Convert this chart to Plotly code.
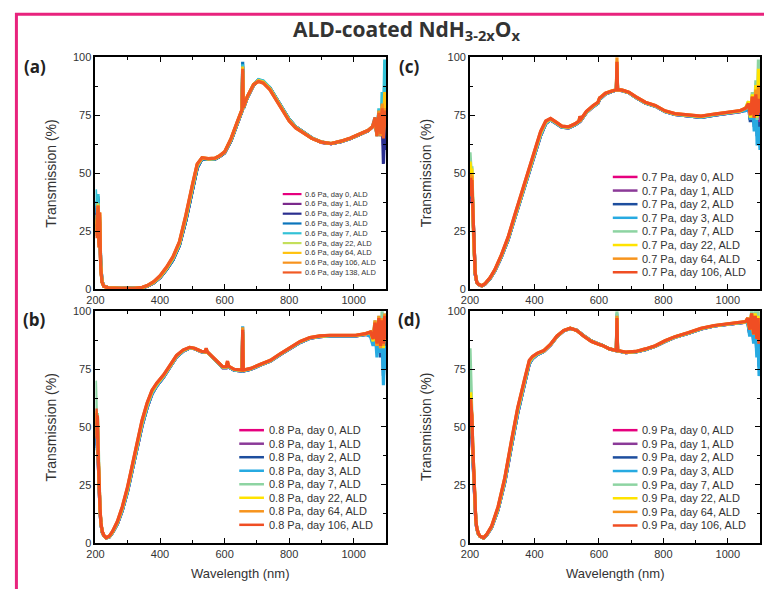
import plotly.graph_objects as go

W, H = 764, 589

# ---------------- labels & colours ----------------
days_a = ["day 0", "day 1", "day 2", "day 3", "day 7", "day 22", "day 64", "day 106", "day 138"]
days_bcd = ["day 0", "day 1", "day 2", "day 3", "day 7", "day 22", "day 64", "day 106"]
colors_a = ["#E6007E", "#7B2A8C", "#2B2F8F", "#0B75BB", "#33C2D6", "#C4DF5B", "#FFC20E", "#F7931E", "#F15A24"]
colors_bcd = ["#E6007E", "#8B3A98", "#1D4E9E", "#27AAE1", "#8DD4A2", "#FFE300", "#F7941D", "#F04E23"]
pressures = ["0.6 Pa", "0.8 Pa", "0.7 Pa", "0.9 Pa"]
x_ticks = [200, 400, 600, 800, 1000]
y_ticks = [0, 25, 50, 75, 100]

# ---------------- panel (a): 0.6 Pa ----------------
wl_a = [200, 203, 206, 208, 211, 213, 216, 220, 226, 240,
        280, 320, 345, 360, 380, 400, 420, 440, 460, 480,
        500, 515, 530, 550, 570, 585, 600, 620, 640, 654,
        656, 658, 670, 690, 705, 720, 740, 760, 780, 800,
        820, 840, 870, 900, 930, 960, 990, 1020, 1045, 1058,
        1066, 1072, 1078, 1084, 1088, 1092, 1096, 1100]
T_a = [
    [35, 28, 33, 38, 20, 28, 11, 3.4, 1.3, 0.6,
     0.3, 0.3, 0.6, 1.2, 2.7, 5, 8.5, 12.7, 18.9, 29.6,
     42.6, 52.3, 56.2, 56, 56.1, 57.2, 58.7, 64, 71.6, 76.9,
     90, 77.9, 82.5, 88, 90.1, 89.5, 86.7, 82.3, 77.5, 73.1,
     70, 68.1, 65.1, 63.3, 62.7, 63.6, 65, 66.8, 68.3, 70,
     72, 67, 75, 68, 77, 66, 74, 71],
    [34, 27, 33, 37, 21, 29, 11, 3.4, 1.3, 0.6,
     0.3, 0.3, 0.6, 1.2, 2.7, 5, 8.5, 12.7, 18.9, 29.7,
     42.7, 52.3, 56.2, 56, 56.1, 57.2, 58.8, 64.1, 71.6, 76.9,
     92, 77.9, 82.5, 88.1, 90.1, 89.5, 86.7, 82.3, 77.5, 73.1,
     70, 68.1, 65.1, 63.3, 62.7, 63.6, 65, 66.8, 68.3, 70,
     71, 68, 76, 66, 75, 62, 78, 68],
    [36, 29, 34, 39, 21, 29, 12, 3.5, 1.3, 0.6,
     0.3, 0.3, 0.6, 1.2, 2.7, 5, 8.4, 12.6, 18.8, 29.5,
     42.5, 52.2, 56.2, 56, 56.1, 57.2, 58.7, 64, 71.5, 76.8,
     96, 77.8, 82.4, 88, 90.2, 89.6, 86.8, 82.4, 77.6, 73.2,
     70, 68.2, 65.2, 63.4, 62.7, 63.6, 65, 66.8, 68.3, 70,
     73, 66, 74, 69, 76, 54, 70, 60],
    [38, 30, 35, 40, 22, 30, 12, 3.5, 1.3, 0.6,
     0.3, 0.3, 0.6, 1.2, 2.7, 5, 8.4, 12.6, 18.8, 29.5,
     42.5, 52.2, 56.2, 56, 56.1, 57.2, 58.7, 64, 71.5, 76.8,
     98, 77.8, 82.4, 88, 90.2, 89.6, 86.8, 82.4, 77.6, 73.2,
     70, 68.2, 65.2, 63.4, 62.7, 63.6, 65, 66.8, 68.3, 70,
     72, 67, 77, 66, 80, 68, 90, 72],
    [43, 33, 36, 41, 24, 31, 13, 3.6, 1.3, 0.6,
     0.3, 0.3, 0.6, 1.3, 2.8, 5.2, 8.7, 13, 19.3, 30.3,
     43.3, 52.8, 56.4, 56.1, 56.2, 57.3, 58.9, 64.3, 71.8, 77,
     97, 78, 82.6, 88.2, 90.4, 89.8, 86.9, 82.4, 77.6, 73.2,
     70, 68.2, 65.2, 63.5, 62.8, 63.7, 65.1, 66.9, 68.4, 70,
     74, 66, 78, 67, 85, 70, 99, 75],
    [32, 26, 32, 37, 20, 32, 11, 3.3, 1.2, 0.6,
     0.3, 0.3, 0.7, 1.3, 2.9, 5.3, 8.9, 13.3, 19.6, 30.8,
     43.8, 53.2, 56.5, 56.2, 56.3, 57.4, 59, 64.5, 72, 77.2,
     93, 78.1, 82.7, 88.2, 90, 89.4, 86.5, 82, 77.2, 72.9,
     69.8, 68, 65.1, 63.4, 62.8, 63.7, 65.1, 66.9, 68.4, 70,
     72, 68, 75, 68, 79, 67, 82, 73],
    [30, 24, 31, 36, 19, 33, 10, 3.2, 1.2, 0.6,
     0.3, 0.3, 0.7, 1.4, 3, 5.5, 9.1, 13.6, 20, 31.3,
     44.3, 53.6, 56.6, 56.2, 56.4, 57.5, 59.1, 64.7, 72.2, 77.3,
     96, 78.2, 82.8, 88.3, 89.8, 89.1, 86.3, 81.8, 77, 72.7,
     69.7, 67.9, 65, 63.4, 62.8, 63.7, 65.1, 66.9, 68.4, 70,
     73, 66, 76, 67, 78, 69, 85, 72],
    [29, 23, 31, 36, 18, 33, 10, 3.1, 1.2, 0.6,
     0.3, 0.3, 0.8, 1.5, 3.1, 5.7, 9.3, 13.8, 20.3, 31.7,
     44.7, 53.8, 56.7, 56.3, 56.5, 57.6, 59.2, 64.9, 72.4, 77.4,
     94, 78.3, 82.9, 88.3, 89.6, 88.9, 86.1, 81.6, 76.9, 72.6,
     69.6, 67.8, 65, 63.4, 62.8, 63.8, 65.2, 67, 68.5, 70,
     72, 67, 77, 66, 80, 66, 78, 71],
    [28, 22, 31, 36, 18, 33, 10, 3, 1.2, 0.6,
     0.3, 0.3, 0.8, 1.5, 3.2, 5.8, 9.5, 14, 20.5, 32,
     45, 54, 56.7, 56.3, 56.5, 57.6, 59.2, 65, 72.5, 77.5,
     95, 78.3, 83, 88.3, 89.5, 88.8, 86, 81.3, 76.8, 72.5,
     69.5, 67.8, 65, 63.4, 62.8, 63.8, 65.2, 67, 68.5, 70,
     74, 66, 76, 67, 78, 65, 77, 70],
]

# ---------------- panel (b): 0.8 Pa ----------------
wl_b = [200, 202, 204, 206, 208, 210, 214, 217, 221, 226,
        233, 243, 253, 268, 283, 299, 314, 329, 344, 360,
        375, 390, 411, 431, 451, 472, 492, 507, 528, 540,
        543, 546, 558, 578, 594, 605, 609, 612, 630, 654,
        656, 658, 681, 711, 742, 772, 803, 834, 864, 895,
        926, 966, 1006, 1037, 1052, 1060, 1066, 1072, 1078, 1083,
        1088, 1092, 1096, 1100]
T_b = [
    [45, 52, 42, 50, 38, 26, 14, 8, 4.6,
     3, 2.1, 2.6, 4.4, 8.2, 14, 22, 31.5, 41.2, 50.4, 58.4, 64.3, 67.8, 71.6, 75.9, 80.2, 82.8, 84.1, 83.8,
     82.5, 82.3, 83.2, 82.3, 80.6, 78.1, 75.6, 75.6, 77.5, 75.9, 74.5, 74.2, 88, 74.2, 74.9, 76.7, 78.4,
     81.2, 84, 86.5, 88.3, 89, 89.3, 89.4, 89.3, 90,
     89.5, 88, 93, 85, 95, 84, 92, 80, 94, 86],
    [44, 50, 41, 49, 37, 26, 14, 8, 4.6,
     3, 2.1, 2.6, 4.4, 8.2, 14, 22, 31.5, 41.2, 50.4, 58.4, 64.3, 67.8, 71.6, 75.9, 80.2, 82.8, 84.1, 83.8,
     82.5, 82.3, 83.2, 82.3, 80.6, 78.1, 75.6, 75.6, 77.5, 75.9, 74.5, 74.2, 90, 74.2, 74.9, 76.7, 78.4,
     81.2, 84, 86.5, 88.3, 89, 89.3, 89.4, 89.3, 90,
     90, 87, 94, 84, 96, 83, 93, 82, 95, 87],
    [46, 53, 42, 50, 38, 26, 14, 8, 4.6,
     3, 2.1, 2.6, 4.4, 8.2, 14, 22, 31.5, 41.2, 50.4, 58.4, 64.3, 67.8, 71.6, 75.9, 80.2, 82.8, 84.1, 83.8,
     82.5, 82.3, 83.2, 82.3, 80.6, 78.1, 75.6, 75.6, 77.5, 75.9, 74.5, 74.2, 91, 74.2, 74.9, 76.7, 78.4,
     81.2, 84, 86.5, 88.3, 89, 89.3, 89.4, 89.3, 90,
     90, 86, 93, 83, 95, 80, 90, 72, 88, 78],
    [45, 52, 40, 50, 38, 26, 14, 8, 4.6,
     3, 2.1, 2.6, 4.4, 8.2, 14, 22, 31.5, 41.2, 50.4, 58.4, 64.3, 67.8, 71.6, 75.9, 80.2, 82.8, 84.1, 83.8,
     82.5, 82.3, 83.2, 82.3, 80.6, 78.1, 75.6, 75.6, 77.5, 75.9, 74.5, 74.2, 93.5, 74.2, 74.9, 76.7, 78.4,
     81.2, 84, 86.5, 88.3, 89, 89.3, 89.4, 89.3, 90,
     89, 85, 92, 80, 94, 82, 90, 68, 85, 75],
    [70, 62, 50, 56, 42, 28, 15, 8.4, 4.8,
     3.1, 2.1, 2.7, 4.6, 8.6, 14.6, 22.8, 32.4, 42.2, 51.4, 59.3, 65, 68.3, 72, 76.2, 80.5, 83, 84.2, 83.9,
     82.6, 82.4, 83.5, 82.4, 80.7, 78.3, 75.8, 75.8, 77.8, 76.1, 74.7, 74.4, 92, 74.4, 75.1, 76.9, 78.6,
     81.4, 84.2, 86.7, 88.4, 89.1, 89.4, 89.5, 89.4, 90.1,
     91, 88, 96, 85, 98, 84, 100, 86, 99, 90],
    [52, 57, 46, 54, 40, 27, 14.5, 8.4, 4.8,
     3.1, 2.2, 2.8, 4.7, 8.9, 15, 23.3, 33, 42.9, 52, 59.8, 65.4, 68.6, 72.2, 76.4, 80.7, 83.1, 84.3, 83.9,
     82.6, 82.4, 83.7, 82.4, 80.8, 78.4, 75.9, 75.9, 78.1, 76.2, 74.8, 74.5, 90, 74.5, 75.2, 77, 78.7,
     81.5, 84.3, 86.8, 88.5, 89.2, 89.5, 89.6, 89.5, 90.2,
     91, 87, 95, 86, 97, 85, 96, 84, 97, 88],
    [50, 56, 45, 55, 40, 28, 15, 8.5, 4.9,
     3.2, 2.2, 2.9, 4.9, 9.2, 15.4, 23.7, 33.5, 43.4, 52.5, 60.2, 65.7, 68.9, 72.4, 76.6, 80.8, 83.2, 84.4, 84,
     82.7, 82.5, 83.9, 82.5, 80.9, 78.5, 76, 76, 78.3, 76.3, 74.9, 74.6, 93, 74.6, 75.3, 77.1, 78.8,
     81.6, 84.4, 86.9, 88.6, 89.3, 89.6, 89.7, 89.6, 90.3,
     91, 88, 96, 85, 98, 84, 97, 85, 99, 87],
    [50, 58, 45, 55, 40, 28, 15, 8.6, 5,
     3.2, 2.2, 2.9, 5, 9.3, 15.6, 24, 33.8, 43.7, 52.8, 60.5, 65.9, 69, 72.5, 76.7, 80.9, 83.3, 84.4, 84,
     82.7, 82.5, 84, 82.5, 80.9, 78.5, 76, 76, 78.5, 76.3, 74.9, 74.6, 92, 74.6, 75.3, 77.1, 78.8,
     81.6, 84.4, 86.9, 88.6, 89.3, 89.6, 89.7, 89.6, 90.3,
     91, 88, 95, 86, 97, 85, 96, 86, 98, 88],
]

# ---------------- panel (c): 0.7 Pa ----------------
wl_c = [200, 202, 204, 206, 208, 211, 216, 221, 226, 237,
        247, 262, 277, 297, 318, 338, 358, 379, 399, 419,
        435, 450, 465, 485, 506, 526, 538, 541, 545, 561,
        582, 597, 602, 606, 620, 640, 654, 656, 658, 673,
        693, 714, 744, 775, 805, 836, 876, 917, 958, 998,
        1039, 1055, 1064, 1070, 1076, 1082, 1087, 1091, 1095, 1100]
T_c = [
    [38, 44, 42, 44, 36, 21, 6.6, 2.9, 2,
     1.4, 2.2, 4.5, 7.8, 13.8, 21.2, 30.2, 39.2, 47.9, 56.7, 66.2, 71.4, 73, 71.7, 69.8, 69.5, 70.8,
     72, 73.5, 72.9, 76.1, 78.7, 80.2, 81.8, 82.4, 84.1, 85.2, 85.8, 92, 85.8, 85.6, 84.7, 82.7, 80.3,
     78.9, 76.6, 75.3, 74.6, 74.1, 75, 75.9, 76.5,
     77.5, 79, 74, 81, 73, 82, 72, 80, 74],
    [37, 43, 43, 45, 36, 21, 6.6, 2.9, 2,
     1.4, 2.2, 4.5, 7.8, 13.8, 21.2, 30.2, 39.2, 47.9, 56.7, 66.2, 71.4, 73, 71.7, 69.8, 69.5, 70.8,
     72, 73.5, 72.9, 76.1, 78.7, 80.2, 81.8, 82.4, 84.1, 85.2, 85.8, 94, 85.8, 85.6, 84.7, 82.7, 80.3,
     78.9, 76.6, 75.3, 74.6, 74.1, 75, 75.9, 76.5,
     77.5, 80, 73, 82, 72, 83, 70, 78, 72],
    [39, 45, 44, 46, 37, 21, 6.6, 2.9, 2,
     1.4, 2.2, 4.5, 7.8, 13.8, 21.2, 30.2, 39.2, 47.9, 56.7, 66.2, 71.4, 73, 71.7, 69.8, 69.5, 70.8,
     72, 73.5, 72.9, 76.1, 78.7, 80.2, 81.8, 82.4, 84.1, 85.2, 85.8, 95, 85.8, 85.6, 84.7, 82.7, 80.3,
     78.9, 76.6, 75.3, 74.6, 74.1, 75, 75.9, 76.5,
     77, 79, 72, 81, 70, 82, 66, 72, 62],
    [40, 46, 44, 47, 37, 21, 6.6, 2.9, 2,
     1.4, 2.2, 4.5, 7.8, 13.8, 21.2, 30.2, 39.2, 47.9, 56.7, 66.2, 71.4, 73, 71.7, 69.8, 69.5, 70.8,
     72, 73.5, 72.9, 76.1, 78.7, 80.2, 81.8, 82.4, 84.1, 85.2, 85.8, 96, 85.8, 85.6, 84.7, 82.7, 80.3,
     78.9, 76.6, 75.3, 74.6, 74.1, 75, 75.9, 76.5,
     77, 80, 73, 82, 68, 83, 62, 70, 60],
    [59, 52, 50, 53, 40, 23, 7, 3, 2.1,
     1.4, 2.3, 4.6, 8, 14.1, 21.6, 30.7, 39.8, 48.5, 57.3, 66.9, 71.8, 73.2, 71.9, 70, 69.7, 71,
     72.2, 73.8, 73.1, 76.3, 78.9, 80.4, 82.1, 82.6, 84.3, 85.3, 85.9, 97, 85.9, 85.7, 84.8, 82.8, 80.4,
     79, 76.7, 75.4, 74.7, 74.3, 75.2, 76.1, 76.7,
     78, 81, 75, 85, 74, 90, 73, 99, 80],
    [55, 53, 50, 52, 39, 22, 7, 3, 2.1,
     1.5, 2.4, 4.8, 8.2, 14.4, 22, 31.1, 40.2, 49, 57.9, 67.4, 72.2, 73.4, 72.1, 70.2, 69.9, 71.2,
     72.4, 74.2, 73.3, 76.5, 79, 80.5, 82.3, 82.7, 84.4, 85.4, 86, 98, 86, 85.7, 84.8, 82.9, 80.5,
     79.1, 76.8, 75.6, 74.9, 74.5, 75.4, 76.3, 76.9,
     78, 81, 74, 84, 74, 88, 74, 95, 78],
    [48, 50, 47, 49, 38, 22, 7, 3, 2.1,
     1.5, 2.4, 4.9, 8.3, 14.6, 22.2, 31.4, 40.5, 49.3, 58.3, 67.8, 72.4, 73.5, 72.2, 70.3, 70, 71.3,
     72.5, 74.4, 73.4, 76.6, 79.1, 80.6, 82.4, 82.8, 84.5, 85.5, 86, 100, 86, 85.8, 84.9, 83, 80.6,
     79.2, 76.9, 75.7, 75, 74.6, 75.5, 76.4, 77,
     78, 80, 75, 83, 74, 86, 75, 88, 77],
    [40, 48, 45, 47, 38, 22, 7, 3, 2.1,
     1.5, 2.4, 4.9, 8.4, 14.7, 22.4, 31.6, 40.7, 49.5, 58.5, 68, 72.5, 73.6, 72.2, 70.3, 70, 71.3,
     72.5, 74.5, 73.5, 76.7, 79.2, 80.6, 82.5, 82.8, 84.5, 85.5, 86, 98, 86, 85.8, 84.9, 83, 80.6,
     79.2, 76.9, 75.7, 75, 74.6, 75.5, 76.4, 77,
     78, 80, 75, 83, 74, 84, 75, 82, 76],
]

# ---------------- panel (d): 0.9 Pa ----------------
wl_d = [200, 202, 204, 206, 208, 211, 214, 218, 221, 226,
        231, 242, 252, 267, 287, 308, 328, 348, 369, 384,
        394, 409, 429, 450, 470, 491, 511, 531, 552, 577,
        597, 612, 633, 654, 656, 658, 683, 714, 744, 775,
        805, 836, 876, 917, 958, 998, 1039, 1055, 1062, 1068,
        1074, 1080, 1085, 1090, 1094, 1097, 1100]
T_d = [
    [48, 58, 50, 48, 40, 30, 17.5, 9.5, 6.2, 3.8,
     2.8, 2.1, 3.4, 6.6, 14.3, 26.3, 41.3, 56, 68.5, 77.3, 79.6, 81.3, 82.6, 85.4, 89, 91.5, 92.5, 91.8, 89.5,
     87.1, 85.9, 85.2, 83.7, 82.9, 92, 82.9, 82.1, 82.4, 83.4, 84.8, 86.9, 88.7, 90.4, 92.3, 93.6, 94.3, 94.7, 95.2,
     96, 91, 98, 89, 97, 87, 95, 84, 90],
    [55, 45, 52, 50, 41, 30, 17.5, 9.5, 6.2, 3.8,
     2.8, 2.1, 3.4, 6.6, 14.3, 26.3, 41.3, 56, 68.5, 77.3, 79.6, 81.3, 82.6, 85.4, 89, 91.5, 92.5, 91.8, 89.5,
     87.1, 85.9, 85.2, 83.7, 82.9, 94, 82.9, 82.1, 82.4, 83.4, 84.8, 86.9, 88.7, 90.4, 92.3, 93.6, 94.3, 94.7, 95.2,
     96, 90, 98, 88, 96, 85, 94, 82, 88],
    [50, 60, 52, 49, 40, 30, 17.5, 9.5, 6.2, 3.8,
     2.8, 2.1, 3.4, 6.6, 14.3, 26.3, 41.3, 56, 68.5, 77.3, 79.6, 81.3, 82.6, 85.4, 89, 91.5, 92.5, 91.8, 89.5,
     87.1, 85.9, 85.2, 83.7, 82.9, 96, 82.9, 82.1, 82.4, 83.4, 84.8, 86.9, 88.7, 90.4, 92.3, 93.6, 94.3, 94.7, 95.2,
     95, 90, 97, 87, 95, 82, 90, 76, 80],
    [52, 58, 55, 50, 41, 30, 17.5, 9.5, 6.2, 3.8,
     2.8, 2.1, 3.4, 6.6, 14.3, 26.3, 41.3, 56, 68.5, 77.3, 79.6, 81.3, 82.6, 85.4, 89, 91.5, 92.5, 91.8, 89.5,
     87.1, 85.9, 85.2, 83.7, 82.9, 99, 82.9, 82.1, 82.4, 83.4, 84.8, 86.9, 88.7, 90.4, 92.3, 93.6, 94.3, 94.7, 95.2,
     95, 89, 97, 86, 95, 80, 88, 72, 78],
    [84, 70, 62, 56, 45, 32, 18, 9.8, 6.4, 3.9,
     2.8, 2.1, 3.5, 6.8, 14.7, 27, 42.2, 57, 69.3, 77.9, 79.9, 81.5, 82.7, 85.5, 89.1, 91.6, 92.5, 91.8, 89.4,
     87, 85.9, 85.2, 83.7, 82.9, 100, 82.9, 82.2, 82.5, 83.5, 84.9, 87, 88.8, 90.5, 92.4, 93.7, 94.4, 94.8, 95.3,
     97, 92, 100, 91, 100, 90, 100, 88, 95],
    [60, 65, 58, 54, 44, 31, 18, 9.8, 6.4, 3.9,
     2.9, 2.2, 3.6, 7, 15.1, 27.6, 42.9, 57.7, 69.9, 78.4, 80.2, 81.7, 82.9, 85.6, 89.2, 91.6, 92.6, 91.7, 89.4,
     87, 85.8, 85.1, 83.7, 83, 97, 83, 82.2, 82.5, 83.6, 85, 87.1, 88.9, 90.6, 92.5, 93.7, 94.4, 94.8, 95.4,
     97, 92, 99, 90, 99, 89, 98, 87, 93],
    [55, 62, 57, 55, 43.5, 32, 18.4, 10, 6.5, 4,
     2.9, 2.2, 3.7, 7.1, 15.4, 28, 43.4, 58.1, 70.2, 78.6, 80.4, 81.8, 83, 85.7, 89.3, 91.7, 92.6, 91.7, 89.3,
     86.9, 85.8, 85.1, 83.7, 83, 98, 83, 82.3, 82.6, 83.7, 85.1, 87.2, 89, 90.7, 92.6, 93.8, 94.5, 94.9, 95.5,
     97, 92, 99, 90, 98, 88, 97, 86, 92],
    [50, 62, 58, 55, 43.7, 32, 18.4, 10, 6.5, 4,
     2.9, 2.2, 3.7, 7.2, 15.6, 28.2, 43.7, 58.4, 70.4, 78.8, 80.5, 81.9, 83, 85.8, 89.3, 91.7, 92.6, 91.7, 89.3,
     86.9, 85.8, 85.1, 83.7, 83, 97, 83, 82.3, 82.6, 83.7, 85.1, 87.2, 89, 90.7, 92.6, 93.8, 94.5, 94.9, 95.5,
     97, 92, 99, 90, 98, 88, 97, 86, 92],
]

for wl, T in [(wl_a, T_a), (wl_b, T_b), (wl_c, T_c), (wl_d, T_d)]:
    for row in T:
        assert len(row) == len(wl), (len(row), len(wl))

# ---------------- layout helpers (pixel -> paper) ----------------
def px(x):
    return x / W

def py(y):
    return 1 - y / H

panels = [
    dict(lab="(a)", wl=wl_a, T=T_a, days=days_a, cols=colors_a, p=pressures[0],
         box=(87.5, 381.5, 52.3, 289), leg=dict(x0=277, x1=296, xt=298, y0=192, dy=10, fs=7.5, lw=2.2)),
    dict(lab="(b)", wl=wl_b, T=T_b, days=days_bcd, cols=colors_bcd, p=pressures[1],
         box=(87.5, 381.5, 311.5, 548), leg=dict(x0=233, x1=258, xt=261, y0=433, dy=13.8, fs=11, lw=2.5)),
    dict(lab="(c)", wl=wl_c, T=T_c, days=days_bcd, cols=colors_bcd, p=pressures[2],
         box=(466.5, 760, 52.3, 289), leg=dict(x0=611, x1=636, xt=639, y0=174.5, dy=13.9, fs=11, lw=2.5)),
    dict(lab="(d)", wl=wl_d, T=T_d, days=days_bcd, cols=colors_bcd, p=pressures[3],
         box=(466.5, 760, 311.5, 548), leg=dict(x0=611, x1=636, xt=639, y0=433, dy=13.9, fs=11, lw=2.5)),
]

fig = go.Figure()
annotations = []
shapes = []
tickfont = dict(family="Liberation Sans, Arial, sans-serif", size=11, color="#333333")

for i, pn in enumerate(panels):
    n = "" if i == 0 else str(i + 1)
    xa, ya = "x" + n, "y" + n
    L, R, Tp, Bt = pn["box"]
    for d, col, vals in zip(pn["days"], pn["cols"], pn["T"]):
        fig.add_trace(go.Scatter(
            x=pn["wl"], y=vals, mode="lines", name=f"{pn['p']}, {d}, ALD",
            line=dict(color=col, width=3.2), xaxis=xa, yaxis=ya, showlegend=False,
            hoverinfo="skip"))
    common = dict(showline=True, linecolor="black", linewidth=1.8, mirror="ticks",
                  ticks="inside", ticklen=5, tickwidth=1.2, tickcolor="black",
                  showgrid=False, zeroline=False, tickfont=tickfont, layer="above traces")
    fig.update_layout(**{
        "xaxis" + n: dict(domain=[px(L), px(R)], range=[200, 1100], tickvals=x_ticks,
                          minor=dict(ticks="inside", ticklen=3, tickwidth=1, tickcolor="black", dtick=100, tick0=200),
                          anchor=ya, **common),
        "yaxis" + n: dict(domain=[py(Bt), py(Tp)], range=[0, 100], tickvals=y_ticks,
                          minor=dict(ticks="inside", ticklen=3, tickwidth=1, tickcolor="black", dtick=12.5, tick0=0),
                          anchor=xa, **common),
    })
    annotations.append(dict(text=pn["lab"], x=px(L - 61.5), y=py(Tp + 9),
                            xref="paper", yref="paper", xanchor="center", yanchor="middle",
                            showarrow=False,
                            font=dict(family="Open Sans, sans-serif", size=17, color="#222222", weight=700)))
    annotations.append(dict(text="Transmission (%)", x=px(L - 44.5), y=py((Tp + Bt) / 2),
                            xref="paper", yref="paper", xanchor="center", yanchor="middle", textangle=-90,
                            showarrow=False, font=dict(family="Liberation Sans, Arial, sans-serif", size=14, color="#333333")))
    if i in (1, 3):
        annotations.append(dict(text="Wavelength (nm)", x=px((L + R) / 2), y=py(579),
                                xref="paper", yref="paper", xanchor="center", yanchor="middle",
                                showarrow=False, font=dict(family="Liberation Sans, Arial, sans-serif", size=13, color="#333333")))
    lg = pn["leg"]
    for k, (d, col) in enumerate(zip(pn["days"], pn["cols"])):
        yy = lg["y0"] + k * lg["dy"]
        shapes.append(dict(type="line", xref="paper", yref="paper", x0=px(lg["x0"]), x1=px(lg["x1"]),
                           y0=py(yy), y1=py(yy), line=dict(color=col, width=lg["lw"])))
        annotations.append(dict(text=f"{pn['p']}, {d}, ALD", x=px(lg["xt"]), y=py(yy),
                                xref="paper", yref="paper", xanchor="left", yanchor="middle",
                                showarrow=False,
                                font=dict(family="Liberation Sans, Arial, sans-serif", size=lg["fs"], color="#333333")))

annotations.append(dict(text="ALD-coated NdH<sub>3-2x</sub>O<sub>x</sub>", x=px(403), y=py(25),
                        xref="paper", yref="paper", xanchor="center", yanchor="middle", showarrow=False,
                        font=dict(family="Open Sans, sans-serif", size=21, color="#333333", weight=700)))

shapes.append(dict(type="rect", xref="paper", yref="paper", x0=px(7.5), x1=1.2, y0=-0.2, y1=py(8.5),
                   line=dict(color="#E8237D", width=3), fillcolor="rgba(0,0,0,0)", layer="above"))

fig.update_layout(width=W, height=H, margin=dict(l=0, r=0, t=0, b=0),
                  paper_bgcolor="white", plot_bgcolor="white",
                  annotations=annotations, shapes=shapes, showlegend=False)

fig.write_html("out.html", config={"displayModeBar": False},
               post_script="document.body.style.margin='0';document.body.style.padding='0';"
                           "document.body.style.overflow='hidden';")
